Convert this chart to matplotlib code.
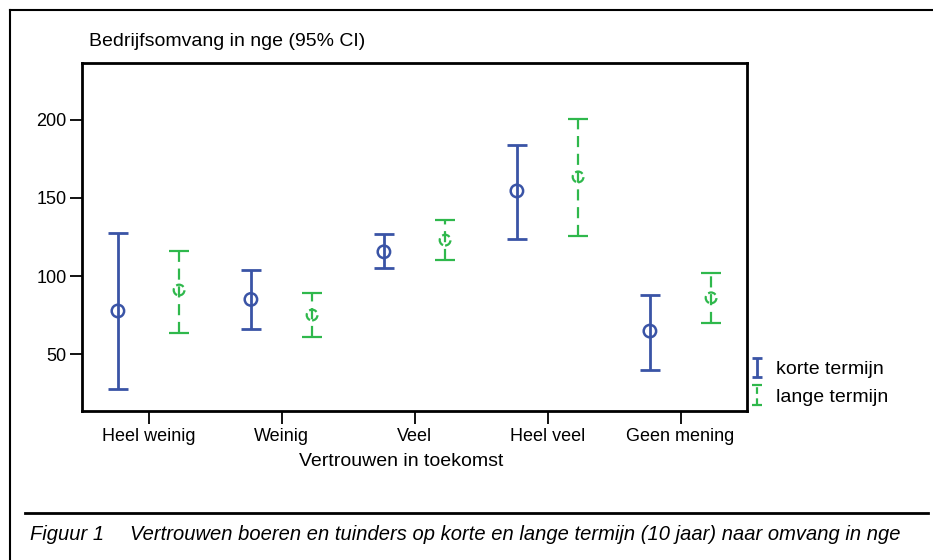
import numpy as np
import matplotlib
matplotlib.use('Agg')
import matplotlib.pyplot as plt
from matplotlib.lines import Line2D
from matplotlib import font_manager

categories = ['Heel weinig', 'Weinig', 'Veel', 'Heel veel', 'Geen mening']

# korte termijn: mean, lower, upper (95% CI)
korte_mean = [77.6, 85.0, 115.5, 154.5, 64.7]
korte_low = [27.6, 66.0, 105.0, 123.7, 40.0]
korte_high = [127.6, 104.0, 127.0, 184.0, 88.0]

# lange termijn
lange_mean = [91.0, 75.0, 123.0, 163.5, 86.0]
lange_low = [63.5, 61.0, 110.0, 125.6, 70.0]
lange_high = [116.0, 89.0, 136.0, 200.6, 102.0]

blue = '#3a54a6'
green = '#2fb84c'

names = [f.name for f in font_manager.fontManager.ttflist]
if 'Liberation Sans Narrow' in names:
    plt.rcParams['font.family'] = ['Liberation Sans Narrow', 'DejaVu Sans']
else:
    plt.rcParams['font.family'] = ['Liberation Sans', 'DejaVu Sans']

fig = plt.figure(figsize=(9.33, 5.6), dpi=100)
W, H = 933, 560
ax = fig.add_axes([82 / W, 1 - 411 / H, (747 - 82) / W, (411 - 63) / H])

x = np.arange(len(categories))
off = 0.23

km = np.array(korte_mean)
lm = np.array(lange_mean)
k_err = [km - np.array(korte_low), np.array(korte_high) - km]
l_err = [lm - np.array(lange_low), np.array(lange_high) - lm]

ax.errorbar(x - off, km, yerr=k_err, fmt='none', ecolor=blue,
            elinewidth=2, capsize=7.5, capthick=2)
eb2 = ax.errorbar(x + off, lm, yerr=l_err, fmt='none', ecolor=green,
                  elinewidth=1.6, capsize=7, capthick=1.6)
eb2[2][0].set_linestyle((0, (5, 3)))

ax.scatter(x - off, km, s=80, facecolors='none', edgecolors=blue, linewidths=1.8, zorder=3)
ax.scatter(x + off, lm, s=60, facecolors='none', edgecolors=green, linewidths=1.6,
           linestyles='--', zorder=3)

# legend proxies with small caps
nan = [np.nan]
p1 = ax.errorbar(nan, nan, yerr=[nan, nan], fmt='none', ecolor=blue,
                 elinewidth=2, capsize=3.5, capthick=2, label='korte termijn')
p2 = ax.errorbar(nan, nan, yerr=[nan, nan], fmt='none', ecolor=green,
                 elinewidth=1.6, capsize=3.5, capthick=1.6, label='lange termijn')
p2[2][0].set_linestyle((0, (3, 2)))

ax.set_xlim(-0.5, 4.5)
ax.set_ylim(13.5, 236.5)
ax.set_yticks([50, 100, 150, 200])
ax.set_xticks(x)
ax.set_xticklabels(categories)
ax.tick_params(axis='both', direction='out', length=9, width=1.3, labelsize=13)
ax.tick_params(axis='y', pad=2)
for s in ax.spines.values():
    s.set_linewidth(2)

leg = ax.legend(handles=[p1, p2], loc='center left', bbox_to_anchor=(1.008, 0.08),
                frameon=False, fontsize=14, handlelength=0.5, handletextpad=0.7,
                labelspacing=0.5, borderaxespad=0, borderpad=0)

fig.text(89 / W, 1 - 42 / H, 'Bedrijfsomvang in nge (95% CI)', fontsize=14,
         ha='left', va='center')
fig.text(401 / W, 1 - 462 / H, 'Vertrouwen in toekomst', fontsize=14,
         ha='center', va='center')

# frame lines around figure
fig.add_artist(Line2D([10 / W, 10 / W], [0, 1 - 10 / H], color='black', lw=1.5,
                      transform=fig.transFigure))
fig.add_artist(Line2D([10 / W, 1], [1 - 10 / H, 1 - 10 / H], color='black', lw=1.5,
                      transform=fig.transFigure))
fig.add_artist(Line2D([25 / W, 928 / W], [1 - 513 / H, 1 - 513 / H], color='black', lw=2,
                      transform=fig.transFigure))

fig.text(30 / W, 1 - 534 / H, 'Figuur 1', fontsize=14.5, style='italic',
         ha='left', va='center')
fig.text(130 / W, 1 - 534 / H,
         'Vertrouwen boeren en tuinders op korte en lange termijn (10 jaar) naar omvang in nge',
         fontsize=14.5, style='italic', ha='left', va='center')

fig.savefig('out.png', dpi=100)
